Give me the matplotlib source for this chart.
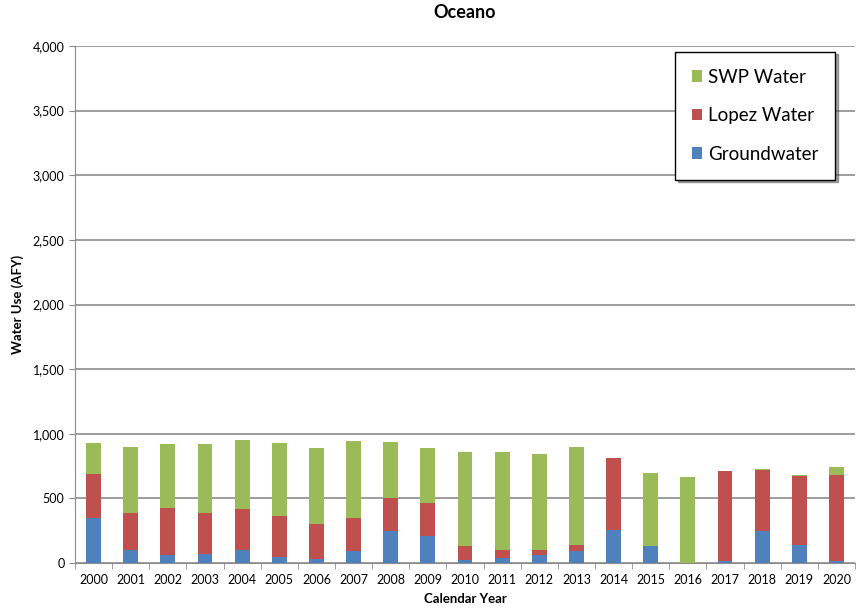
import numpy as np
import matplotlib.pyplot as plt
from matplotlib.ticker import FuncFormatter, MultipleLocator

plt.rcParams["font.family"] = ["Lato", "DejaVu Sans"]

years = [str(y) for y in range(2000, 2021)]
groundwater = [345, 104, 65, 70, 104, 44, 34, 91, 251, 212, 26, 39, 65, 91, 259, 130, 0, 12, 246, 142, 15]
lopez = [341, 279, 362, 316, 316, 319, 269, 256, 249, 252, 109, 65, 39, 46, 552, 0, 0, 703, 474, 532, 664]
swp = [241, 518, 490, 531, 533, 569, 583, 598, 435, 427, 725, 751, 740, 759, 0, 569, 668, 0, 5, 5, 64]

c_gw = "#4F81BD"
c_lopez = "#C0504D"
c_swp = "#9BBB59"

fig = plt.figure(figsize=(8.61, 6.13), dpi=100)
ax = fig.add_axes([75 / 861, 50 / 613, 780 / 861, 517 / 613])

x = np.arange(len(years))
gw = np.array(groundwater)
lp = np.array(lopez)
sw = np.array(swp)
w = 0.4

ax.bar(x, gw, w, color=c_gw, label="Groundwater", zorder=3)
ax.bar(x, lp, w, bottom=gw, color=c_lopez, label="Lopez Water", zorder=3)
ax.bar(x, sw, w, bottom=gw + lp, color=c_swp, label="SWP Water", zorder=3)

ax.set_xlim(-0.5, len(years) - 0.5)
ax.set_ylim(0, 4000)
ax.yaxis.set_major_locator(MultipleLocator(500))
ax.yaxis.set_major_formatter(FuncFormatter(lambda v, p: f"{int(v):,}"))
ax.grid(axis="y", color="#8c8c8c", linewidth=1.2, zorder=0)

ax.set_xticks(x)
ax.set_xticklabels(years, fontsize=9)
ax.set_xticks(np.arange(-0.5, len(years)), minor=True)
ax.tick_params(axis="x", which="major", length=0, pad=8)
ax.tick_params(axis="x", which="minor", length=4, color="#8c8c8c")
ax.tick_params(axis="y", labelsize=9, length=4, color="#8c8c8c")

for s in ["top", "right"]:
    ax.spines[s].set_visible(False)
ax.spines["left"].set_color("#8c8c8c")
ax.spines["bottom"].set_color("#8c8c8c")

ax.set_title("Oceano", fontsize=13, fontweight="bold", pad=20)
ax.set_xlabel("Calendar Year", fontsize=9.5, fontweight="bold", labelpad=5)
ax.set_ylabel("Water Use (AFY)", fontsize=9.5, fontweight="bold", labelpad=6)

handles, labels = ax.get_legend_handles_labels()
leg = ax.legend(handles[::-1], labels[::-1], loc="upper right", bbox_to_anchor=(0.9745, 0.989),
                fontsize=13.5, frameon=True, fancybox=False, shadow=True,
                labelspacing=1.15, handlelength=0.55, handleheight=0.55,
                handletextpad=0.3, borderpad=0.9, borderaxespad=0)
leg.get_frame().set_edgecolor("black")
leg.get_frame().set_linewidth(1.0)

fig.savefig("out.png", dpi=100)
